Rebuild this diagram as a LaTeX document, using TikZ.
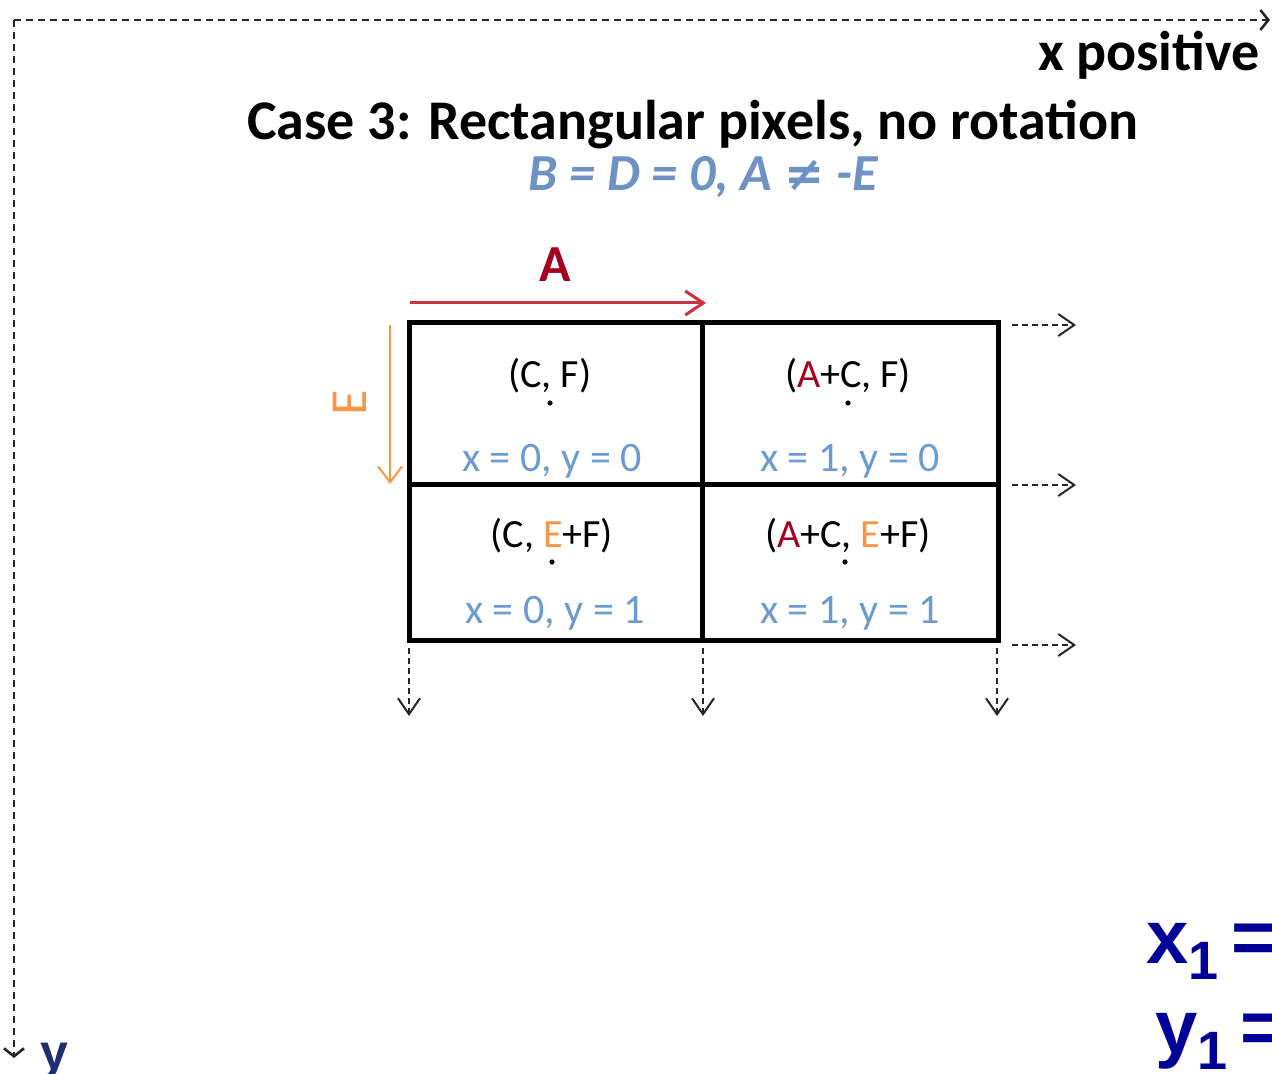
\documentclass[tikz,border=0pt]{standalone}
\usepackage{fontspec}
\setmainfont{Carlito}
\newfontfamily\arialfont{Liberation Sans}
\newfontfamily\symfont{DejaVu Sans}
\usetikzlibrary{arrows.meta}
\definecolor{axisgray}{HTML}{262626}
\definecolor{caseblue}{HTML}{6E92C4}
\definecolor{cellblue}{HTML}{6C9BD2}
\definecolor{stepred}{HTML}{A3001E}
\definecolor{arrowred}{HTML}{CC3340}
\definecolor{steporange}{HTML}{F79646}
\definecolor{eqnavy}{HTML}{000099}
\definecolor{ynavy}{HTML}{1F2E6E}

\begin{document}
\begin{tikzpicture}[x=0.5pt, y=-0.5pt,
  axis/.style={line width=1.3pt, axisgray, dash pattern=on 3.5pt off 2.5pt,
               -{Straight Barb[length=4pt, width=10pt]}},
  ray/.style={line width=1pt, axisgray, dash pattern=on 3pt off 2pt,
              -{Straight Barb[length=8pt, width=11pt]}},
  gridline/.style={line width=2.5pt, black},
  title/.style={font=\fontsize{28}{30}\selectfont\bfseries, anchor=base, inner sep=0pt},
  subtitle/.style={font=\fontsize{26}{28}\selectfont\bfseries\itshape, text=caseblue,
                   anchor=base, inner sep=0pt},
  coord/.style={font=\fontsize{20}{22}\selectfont, anchor=base, inner sep=0pt},
  index/.style={font=\fontsize{21}{23}\selectfont, text=cellblue, anchor=base, inner sep=0pt},
  eqn/.style={font=\arialfont\bfseries\fontsize{38}{40}\selectfont, text=eqnavy,
              anchor=base west, inner sep=0pt},
]
\useasboundingbox (0,0) rectangle (1272,1074);
\clip (0,0) rectangle (1272,1074);

% axes
\coordinate (origin) at (14,20);
\coordinate (xend) at (1270,20);
\coordinate (yend) at (14,1058);
\draw[axis] (origin) -- (xend);
\draw[axis] (origin) -- (yend);
\node[title, anchor=base east] (xpos) at (1260,71) {x positive};
\node[font=\arialfont\bfseries\fontsize{25}{27}\selectfont, text=ynavy,
      anchor=base, inner sep=0pt] (ypos) at (54,1069) {y};

\node[title] (case) at (693,140) {Case 3: Rectangular pixels, no rotation};
\node[subtitle] (cond) at (703,191) {B = D = 0, A {\symfont\bfseries\itshape\fontsize{24}{26}\selectfont ≠} -E};

% step sizes
\node[font=\fontsize{26}{28}\selectfont\bfseries, text=stepred, anchor=base,
      inner sep=0pt] (alabel) at (555,282) {A};
\coordinate (astart) at (410,303);
\coordinate (aend) at (706,303);
\draw[line width=1.5pt, arrowred, -{Straight Barb[length=9pt, width=12pt]}] (astart) -- (aend);
\node[font=\fontsize{26}{28}\selectfont, text=steporange, rotate=90,
      inner sep=0pt] (elabel) at (350,403) {E};
\coordinate (estart) at (390,325);
\coordinate (eend) at (390,484);
\draw[line width=1pt, steporange, -{Straight Barb[length=8pt, width=12pt]}] (estart) -- (eend);

% pixel grid
\coordinate (g-nw) at (409,323);
\coordinate (g-se) at (998,640);
\draw[gridline] (g-nw) rectangle (g-se);
\draw[gridline] (702,323) -- (702,640);
\draw[gridline] (409,484) -- (998,484);

\node[coord] (p00) at (550,387) {(C, F)};
\node[coord] (p10) at (848,387) {({\color{stepred}A}+C, F)};
\node[coord] (p01) at (552,547) {(C, {\color{steporange}E}+F)};
\node[coord] (p11) at (848,547) {({\color{stepred}A}+C, {\color{steporange}E}+F)};

\fill (550,403) circle (1.3pt);
\fill (848,403) circle (1.3pt);
\fill (552,562) circle (1.3pt);
\fill (845,562) circle (1.3pt);

\node[index] (i00) at (552,471) {x = 0, y = 0};
\node[index] (i10) at (850,471) {x = 1, y = 0};
\node[index] (i01) at (555,623) {x = 0, y = 1};
\node[index] (i11) at (850,623) {x = 1, y = 1};

% continuing rows and columns
\foreach \y [count=\i] in {325,485,645} {
  \coordinate (r\i s) at (1012,\y);
  \coordinate (r\i e) at (1076,\y);
  \draw[ray] (r\i s) -- (r\i e);
}
\foreach \x [count=\i] in {409,703,997} {
  \coordinate (c\i s) at (\x,648);
  \coordinate (c\i e) at (\x,716);
  \draw[ray] (c\i s) -- (c\i e);
}

\node[eqn] (xone) at (1146,963) {x\raisebox{-0.22em}{\fontsize{27}{27}\selectfont 1}\,=};
\node[eqn] (yone) at (1155,1053) {y\raisebox{-0.22em}{\fontsize{27}{27}\selectfont 1}\,=};

\end{tikzpicture}
\end{document}
